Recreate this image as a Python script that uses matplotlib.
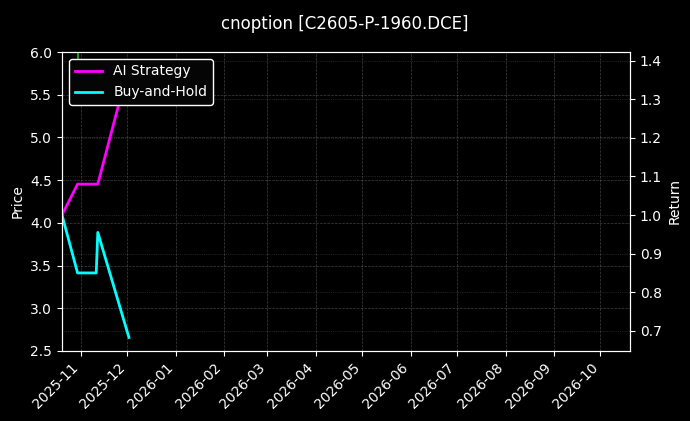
import matplotlib
matplotlib.use("Agg")
import matplotlib.pyplot as plt
import matplotlib.dates as mdates
import pandas as pd

plt.style.use("dark_background")

# data
dates = ["2025-10-20", "2025-10-30", "2025-11-11", "2025-11-12", "2025-12-02"]
ai_strategy = [1.0, 1.080, 1.080, 1.080, 1.387]
buy_hold = [1.0, 0.850, 0.850, 0.955, 0.683]
price_dates = ["2025-10-30", "2025-10-30"]
price_vals = [5.75, 6.8]
title = "cnoption [C2605-P-1960.DCE]"
x_range = ["2025-10-20", "2026-10-20"]
price_range = [2.5, 6.0]

d = pd.to_datetime(dates)
pd_dates = pd.to_datetime(price_dates)

fig = plt.figure(figsize=(6.9, 4.21), dpi=100, facecolor="black")
ax = fig.add_axes([62/690, 1-351/421, (630-62)/690, (351-52)/421])
ax.set_facecolor("black")
ax.plot(pd_dates, price_vals, color="#2ca02c", lw=1.5, alpha=0.9)
ax.set_ylim(*price_range)
ax.set_ylabel("Price", fontsize=10)
ax.grid(True, color="gray", linestyle="--", linewidth=0.5, alpha=0.5)

ax2 = ax.twinx()
l1, = ax2.plot(d, ai_strategy, color="#ff00ff", lw=2, label="AI Strategy")
l2, = ax2.plot(d, buy_hold, color="#00ffff", lw=2, label="Buy-and-Hold")
ax2.set_ylabel("Return", fontsize=10)
ax2.grid(True, color="gray", linestyle=":", linewidth=0.5, alpha=0.5)

ax.set_xlim(pd.to_datetime(x_range[0]), pd.to_datetime(x_range[1]))
ax.xaxis.set_major_locator(mdates.MonthLocator())
ax.xaxis.set_major_formatter(mdates.DateFormatter("%Y-%m"))
plt.setp(ax.get_xticklabels(), rotation=45, ha="right")

leg = ax2.legend(handles=[l1, l2], loc="upper left", facecolor="#050505",
                 edgecolor="white", framealpha=1.0, fontsize=10)

fig.suptitle(title, fontsize=12, y=0.965)
fig.savefig("out.png", dpi=100, facecolor="black")
